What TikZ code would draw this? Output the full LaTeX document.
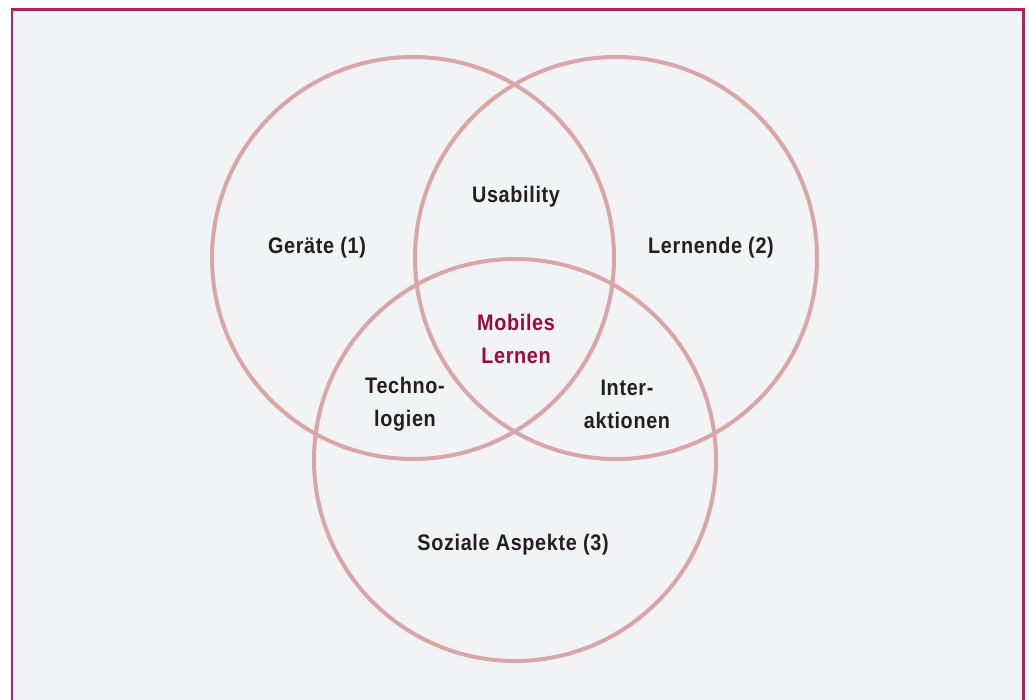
\documentclass[tikz,border=0pt]{standalone}
\usepackage{fontspec}
\setmainfont{Liberation Sans}[FakeStretch=0.88,LetterSpace=3]
\definecolor{bgc}{HTML}{F2F3F4}
\definecolor{framec}{HTML}{B0245A}
\definecolor{ringc}{HTML}{D9A5A6}
\definecolor{textc}{HTML}{231F20}
\definecolor{hlc}{HTML}{9A0B3C}
\begin{document}
\begin{tikzpicture}[x=1pt,y=-1pt,
  ring/.style={draw=ringc,line width=4pt,circle,minimum size=402pt,inner sep=0pt},
  lbl/.style={font=\fontsize{22.5}{33}\selectfont\bfseries,text=textc,align=center,inner sep=0pt},
  hl/.style={lbl,text=hlc}]
\useasboundingbox (0,0) rectangle (1030,700);
\fill[white] (0,0) rectangle (1030,700);
\draw[framec,line width=2.2pt,fill=bgc] (12,9.5) rectangle (1023.5,720);
\node[ring] (c1) at (413,258) {};
\node[ring] (c2) at (616,258) {};
\node[ring] (c3) at (515,460) {};
\node[lbl] (geraete) at (317,248) {Geräte (1)};
\node[lbl] (usab) at (516,197) {Usability};
\node[lbl] (lern) at (711,248) {Lernende (2)};
\node[hl] (mob) at (516,338.5) {Mobiles\\Lernen};
\node[lbl] (tech) at (405,404.5) {Techno-\\logien};
\node[lbl] (inter) at (627,404.5) {Inter-\\aktionen};
\node[lbl] (soz) at (513,545) {Soziale Aspekte (3)};
\end{tikzpicture}
\end{document}
